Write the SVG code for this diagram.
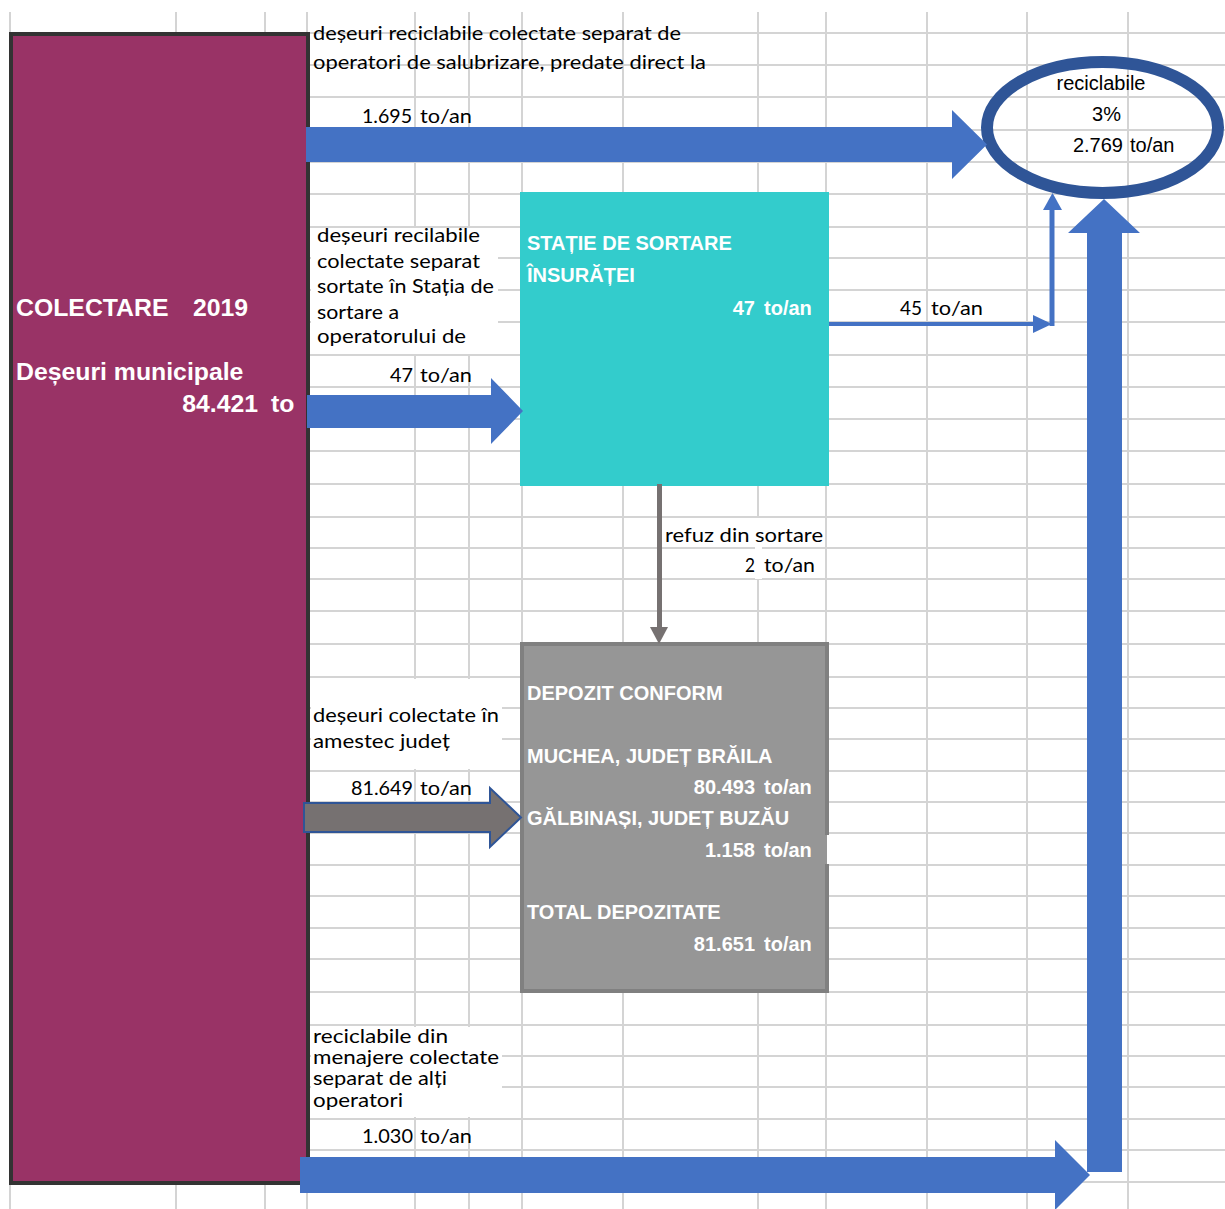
<svg xmlns="http://www.w3.org/2000/svg" width="1225" height="1209" viewBox="0 0 1225 1209">
<style>
.grid{stroke:#d4d4d4;stroke-width:2;fill:none}
.cal{font-family:Lato,"Open Sans",sans-serif;font-size:20px;fill:#000}
.cal2{font-family:Lato,"Open Sans",sans-serif;font-size:19px;fill:#000}
.arb{font-family:"Liberation Sans",Arial,sans-serif;font-weight:bold;font-size:20px;fill:#fff}
.arb24{font-family:"Liberation Sans",Arial,sans-serif;font-weight:bold;font-size:24.8px;fill:#fff}
.ar{font-family:"Liberation Sans",Arial,sans-serif;font-size:20px;fill:#000}
.blue{fill:#4472C4}
.gray{fill:#767171}
</style>
<rect x="0" y="0" width="1225" height="1209" fill="#fff"/>
<g id="grid">
<path class="grid" d="M10,12V1209M176,12V1209M265,12V1209M307,12V1209M415,12V1209M469,12V1209M522,12V1209M623,12V1209M758,12V1209M826,12V1209M927,12V1209M1027,12V1209M1128,12V1209"/>
<path class="grid" d="M10,33H1225M10,65H1225M10,97H1225M10,130H1225M10,162H1225M10,194H1225M10,227H1225M10,258H1225M10,290H1225M10,322H1225M10,355H1225M10,387H1225M10,419H1225M10,451H1225M10,484H1225M10,517H1225M10,548H1225M10,579H1225M10,611H1225M10,644H1225M10,677H1225M10,708H1225M10,739H1225M10,771H1225M10,802H1225M10,833H1225M10,865H1225M10,896H1225M10,928H1225M10,959H1225M10,992H1225M10,1025H1225M10,1056H1225M10,1087H1225M10,1119H1225M10,1150H1225M10,1182H1225"/>
<rect x="311" y="228" width="187" height="126" fill="#fff"/>
<rect x="311" y="679" width="191" height="90" fill="#fff"/>
<rect x="311" y="1027" width="191" height="90" fill="#fff"/>
<rect x="755" y="518" width="7" height="61" fill="#fff"/>
</g>
<g id="colectare">
<rect x="11" y="34" width="297" height="1149" fill="#993366" stroke="#333333" stroke-width="4"/>
<text class="arb24" x="16" y="316">COLECTARE</text>
<text class="arb24" x="193" y="316">2019</text>
<text class="arb24" x="16" y="380">Deșeuri municipale</text>
<text class="arb24" x="258" y="412" text-anchor="end">84.421</text>
<text class="arb24" x="271" y="412">to</text>
</g>
<g id="statie-sortare">
<rect x="520" y="192" width="309" height="294" fill="#33CCCC"/>
<text class="arb" x="527" y="250">STAȚIE DE SORTARE</text>
<text class="arb" x="527" y="282">ÎNSURĂȚEI</text>
<text class="arb" x="755" y="315" text-anchor="end">47</text>
<text class="arb" x="764" y="315">to/an</text>
</g>
<g id="depozit">
<rect x="522" y="644" width="305" height="347" fill="#969696"/>
<path d="M827,835V644H522V991H827V864" fill="none" stroke="#808080" stroke-width="4"/>
<text class="arb" x="527" y="700">DEPOZIT CONFORM</text>
<text class="arb" x="527" y="763">MUCHEA, JUDEȚ BRĂILA</text>
<text class="arb" x="755" y="794" text-anchor="end">80.493</text>
<text class="arb" x="764" y="794">to/an</text>
<text class="arb" x="527" y="825">GĂLBINAȘI, JUDEȚ BUZĂU</text>
<text class="arb" x="755" y="857" text-anchor="end">1.158</text>
<text class="arb" x="764" y="857">to/an</text>
<text class="arb" x="527" y="919">TOTAL DEPOZITATE</text>
<text class="arb" x="755" y="951" text-anchor="end">81.651</text>
<text class="arb" x="764" y="951">to/an</text>
</g>
<g id="reciclabile">
<ellipse cx="1102.5" cy="127.5" rx="115.5" ry="65.5" fill="none" stroke="#2F5597" stroke-width="12"/>
<text class="ar" x="1101" y="90" text-anchor="middle">reciclabile</text>
<text class="ar" x="1121" y="121" text-anchor="end">3%</text>
<text class="ar" x="1123" y="152" text-anchor="end">2.769</text>
<text class="ar" x="1130" y="152">to/an</text>
</g>
<g id="connectors">
<path class="blue" d="M306,127H952V110L987,144.5L952,179V162H306Z"/>
<path class="blue" d="M307,395H491V378L523,411L491,444V428H307Z"/>
<path class="blue" d="M300,1157H1055V1140L1090,1175L1055,1210V1193H300Z"/>
<path class="blue" d="M1087,1172V233H1068L1104,199L1140,233H1122V1172Z"/>
<path d="M829,324H1036" stroke="#4472C4" stroke-width="4" fill="none"/>
<path class="blue" d="M1033,315L1052,324L1033,333Z"/>
<path d="M1052,326V208" stroke="#4472C4" stroke-width="5" fill="none"/>
<path class="blue" d="M1043,210L1052.5,193L1062,210Z"/>
<path d="M659.5,484V628" stroke="#767171" stroke-width="5" fill="none"/>
<path class="gray" d="M650,627L668,627L659,644Z"/>
<path class="gray" d="M304,803H490V788L521,817.5L490,847V832H304Z" stroke="#2F5597" stroke-width="2"/>
</g>
<g id="labels">
<text class="cal" x="313" y="40" textLength="368" lengthAdjust="spacingAndGlyphs">deșeuri reciclabile colectate separat de</text>
<text class="cal" x="313" y="69" textLength="393" lengthAdjust="spacingAndGlyphs">operatori de salubrizare, predate direct la</text>
<text class="cal" x="362" y="123" textLength="50" lengthAdjust="spacingAndGlyphs">1.695</text>
<text class="cal" x="420" y="123" textLength="52" lengthAdjust="spacingAndGlyphs">to/an</text>
<text class="cal" x="317" y="242" textLength="163" lengthAdjust="spacingAndGlyphs">deșeuri recilabile</text>
<text class="cal" x="317" y="268" textLength="163" lengthAdjust="spacingAndGlyphs">colectate separat</text>
<text class="cal" x="317" y="293" textLength="177" lengthAdjust="spacingAndGlyphs">sortate în Stația de</text>
<text class="cal" x="317" y="319" textLength="82" lengthAdjust="spacingAndGlyphs">sortare a</text>
<text class="cal" x="317" y="343" textLength="149" lengthAdjust="spacingAndGlyphs">operatorului de</text>
<text class="cal" x="390" y="382" textLength="23" lengthAdjust="spacingAndGlyphs">47</text>
<text class="cal" x="420" y="382" textLength="52" lengthAdjust="spacingAndGlyphs">to/an</text>
<text class="cal" x="900" y="315" textLength="22" lengthAdjust="spacingAndGlyphs">45</text>
<text class="cal" x="931" y="315" textLength="52" lengthAdjust="spacingAndGlyphs">to/an</text>
<text class="cal" x="665" y="542" textLength="158" lengthAdjust="spacingAndGlyphs">refuz din sortare</text>
<text class="cal" x="745" y="572" textLength="10" lengthAdjust="spacingAndGlyphs">2</text>
<text class="cal" x="764" y="572" textLength="51" lengthAdjust="spacingAndGlyphs">to/an</text>
<text class="cal" x="313" y="722" textLength="186" lengthAdjust="spacingAndGlyphs">deșeuri colectate în</text>
<text class="cal" x="313" y="748" textLength="137" lengthAdjust="spacingAndGlyphs">amestec județ</text>
<text class="cal" x="351" y="795" textLength="62" lengthAdjust="spacingAndGlyphs">81.649</text>
<text class="cal" x="420" y="795" textLength="52" lengthAdjust="spacingAndGlyphs">to/an</text>
<text class="cal2" x="313" y="1043" textLength="135" lengthAdjust="spacingAndGlyphs">reciclabile din</text>
<text class="cal2" x="313" y="1064" textLength="186" lengthAdjust="spacingAndGlyphs">menajere colectate</text>
<text class="cal2" x="313" y="1085" textLength="134" lengthAdjust="spacingAndGlyphs">separat de alți</text>
<text class="cal2" x="313" y="1107" textLength="90" lengthAdjust="spacingAndGlyphs">operatori</text>
<text class="cal" x="362" y="1143" textLength="51" lengthAdjust="spacingAndGlyphs">1.030</text>
<text class="cal" x="420" y="1143" textLength="52" lengthAdjust="spacingAndGlyphs">to/an</text>
</g>
</svg>
